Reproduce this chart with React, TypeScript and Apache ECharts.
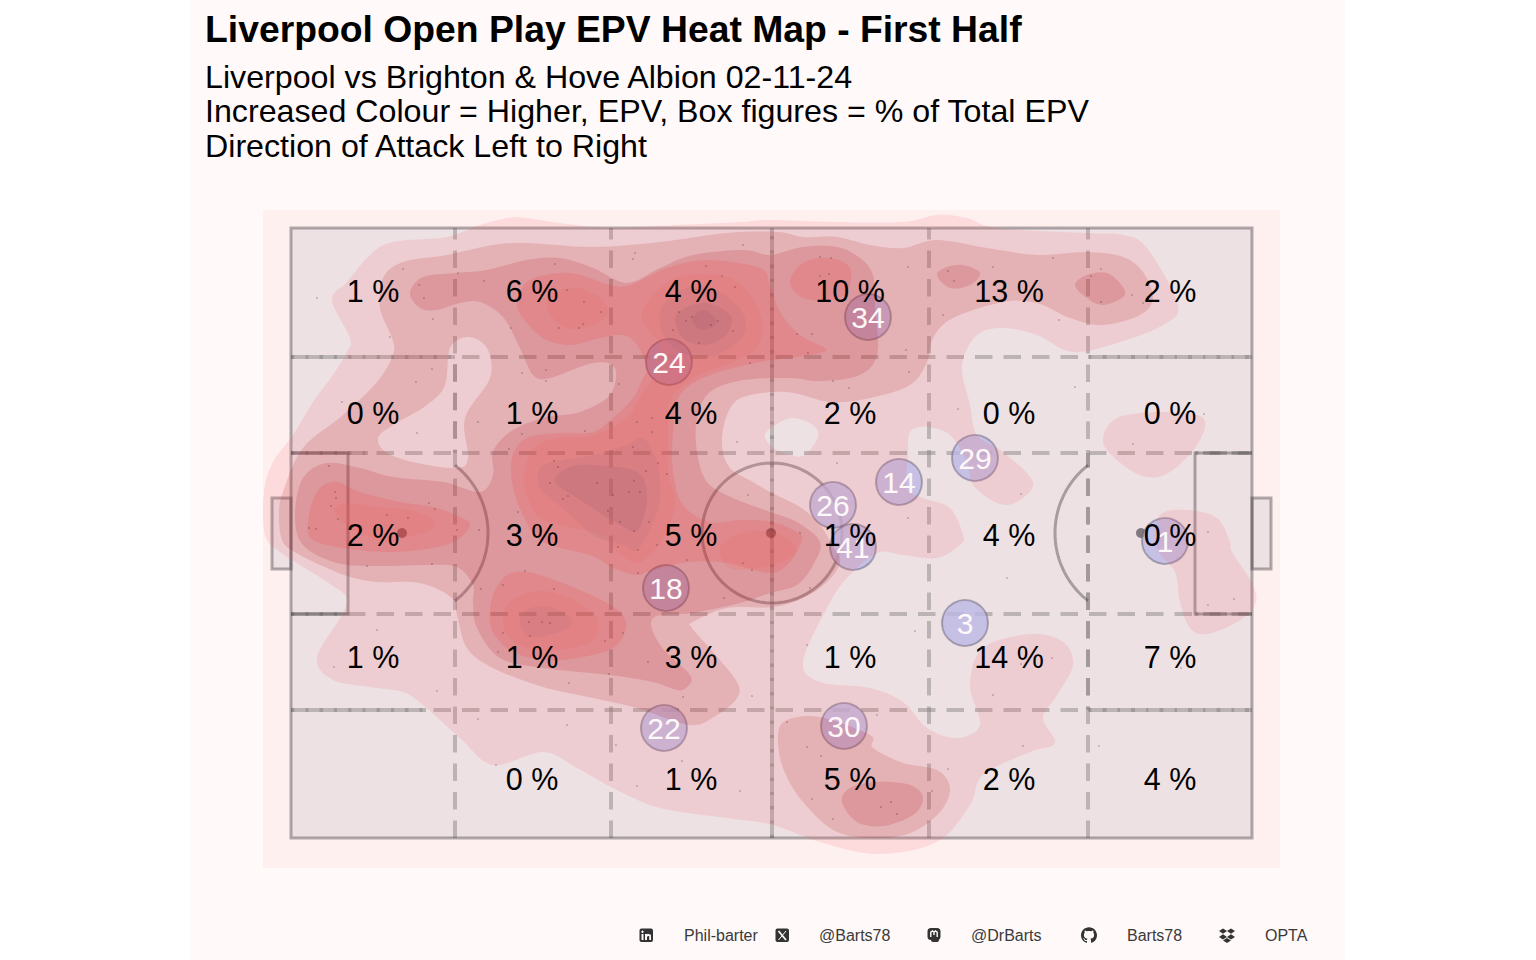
import React, { useEffect, useRef } from "react";
import * as echarts from "echarts";

type Pt = number[];

const titleText = "Liverpool Open Play EPV Heat Map - First Half";
const subtitleLines = [
  "Liverpool vs Brighton & Hove Albion 02-11-24",
  "Increased Colour = Higher, EPV, Box figures = % of Total EPV",
  "Direction of Attack Left to Right",
];
const captionLabels = ["Phil-barter", "@Barts78", "@DrBarts", "Barts78", "OPTA"];

// pitch axis: length 0..961, width 0..610
const pitchLength = 961;
const pitchWidth = 610;
const gridLinesX = [164, 320, 481, 638, 797];
const gridLinesY = [481, 385, 224, 128];
// second dashed pass where two box outlines overlap: x0, y0, x1, y1
const doubledSegments: number[][] = [
  [164, 385, 164, 481],
  [481, 0, 481, 610],
  [797, 128, 797, 385],
  [0, 481, 164, 481],
  [797, 481, 961, 481],
  [0, 385, 77, 385],
  [904, 385, 961, 385],
  [0, 224, 57, 224],
  [904, 224, 961, 224],
  [0, 128, 135, 128],
  [797, 128, 961, 128],
];

const boxLabelX = [82, 241, 400, 559, 718, 879];
const boxLabelY = [547, 425, 303, 181, 59];
const boxShares: (number | null)[][] = [
  [1, 6, 4, 10, 13, 2],
  [0, 1, 4, 2, 0, 0],
  [2, 3, 5, 1, 4, 0],
  [1, 1, 3, 1, 14, 7],
  [null, 0, 1, 5, 2, 4],
];

const players: [number, number, string][] = [
  [378, 476, "24"],
  [577, 521, "34"],
  [684, 380, "29"],
  [608, 356, "14"],
  [542, 333, "26"],
  [562, 291, "41"],
  [874, 297, "1"],
  [375, 250, "18"],
  [674, 215, "3"],
  [373, 110, "22"],
  [553, 112, "30"],
];

const level1Outer: Pt[] = [[41,538],[56,556],[79,583],[102,596],[156,601],[189,613],[216,620],[236,620],[269,615],[319,610],[386,613],[452,616],[479,618],[546,616],[612,616],[646,623],[676,620],[706,610],[796,605],[832,603],[856,590],[887,533],[872,513],[829,496],[782,486],[746,503],[712,510],[686,503],[671,473],[679,433],[686,403],[712,386],[742,356],[726,336],[706,335],[682,353],[676,376],[659,403],[636,411],[619,406],[617,383],[616,350],[632,340],[659,330],[672,303],[669,293],[646,280],[612,283],[586,285],[556,260],[536,230],[512,176],[529,156],[579,150],[612,136],[636,110],[666,100],[689,113],[679,153],[692,190],[739,204],[772,196],[782,173],[766,143],[752,120],[764,95],[739,86],[692,63],[679,33],[646,-4],[586,-16],[529,-4],[482,13],[436,20],[369,30],[322,50],[286,70],[252,86],[202,73],[169,100],[132,133],[112,146],[79,151],[42,158],[26,180],[49,220],[56,240],[36,256],[9,273],[-11,286],[-26,303],[-27,346],[-18,376],[2,403],[22,436],[42,463],[56,486],[59,500]];
const level1Hole: Pt[] = [[474,403],[484,413],[502,420],[522,413],[527,401],[514,383],[499,383],[481,391]];
const level1LobeA: Pt[] = [[812,396],[826,420],[872,426],[912,420],[906,393],[879,366],[856,361],[832,373]];
const level1LobeB: Pt[] = [[869,323],[896,328],[926,320],[939,296],[941,286],[962,253],[964,233],[946,216],[916,204],[899,210],[889,236],[884,266],[866,290]];

const level2Outer: Pt[] = [[89,530],[92,560],[112,576],[156,583],[202,593],[236,595],[302,591],[369,596],[436,605],[487,606],[512,601],[546,601],[579,593],[612,590],[646,598],[696,590],[746,583],[796,586],[832,581],[852,566],[862,540],[849,523],[812,513],[779,520],[746,535],[712,536],[662,520],[642,500],[636,476],[619,453],[579,440],[539,436],[496,446],[452,441],[436,423],[431,393],[439,370],[462,356],[479,346],[509,331],[529,313],[541,293],[549,276],[536,256],[512,240],[482,231],[436,230],[402,216],[401,210],[422,186],[446,156],[446,140],[426,123],[399,113],[346,130],[302,140],[252,151],[202,170],[176,190],[166,223],[161,240],[129,255],[86,256],[59,261],[36,270],[9,283],[-8,296],[-12,323],[-8,346],[12,390],[52,423],[86,456],[102,483],[101,500]];
const level2Hole: Pt[] = [[87,400],[102,413],[136,433],[154,453],[159,490],[177,501],[196,490],[199,460],[174,420],[177,380],[166,370],[126,375],[96,385]];
const level2Lobe: Pt[] = [[487,103],[496,118],[529,121],[579,103],[582,90],[612,75],[646,68],[659,50],[649,26],[622,6],[589,0],[546,6],[512,36],[492,70]];

const level3Outer: Pt[] = [[119,545],[132,561],[166,565],[196,568],[236,578],[269,580],[302,570],[336,555],[369,570],[402,583],[452,588],[479,583],[512,591],[546,591],[569,580],[582,563],[584,533],[587,490],[579,470],[559,460],[526,457],[499,460],[452,458],[419,446],[406,420],[406,386],[416,356],[442,340],[479,326],[506,316],[529,296],[522,273],[506,253],[479,245],[449,235],[402,225],[362,220],[369,193],[399,163],[396,151],[386,148],[362,156],[319,163],[252,170],[209,180],[186,210],[182,236],[182,253],[166,271],[136,273],[86,272],[46,275],[12,293],[4,323],[12,360],[36,375],[69,370],[102,361],[152,356],[189,346],[202,363],[202,386],[219,406],[252,420],[289,426],[319,443],[324,470],[302,475],[259,460],[242,463],[229,490],[212,521],[189,536],[169,535],[146,528],[129,530]];
const level3LobeA: Pt[] = [[646,563],[656,571],[672,573],[689,565],[679,553],[659,550]];
const level3LobeB: Pt[] = [[784,553],[796,563],[816,565],[832,551],[832,541],[812,533],[796,540]];
const level3LobeC: Pt[] = [[551,36],[559,50],[586,56],[619,53],[632,40],[622,23],[592,12],[566,16]];

const level4Main: Pt[] = [[226,536],[239,558],[279,565],[319,553],[339,553],[376,570],[416,578],[469,570],[479,553],[489,526],[509,503],[534,490],[529,485],[499,480],[469,476],[419,463],[389,443],[382,406],[382,366],[392,333],[419,316],[449,318],[481,316],[506,306],[511,298],[499,276],[479,265],[436,275],[399,276],[361,268],[346,263],[322,270],[299,283],[252,296],[232,323],[221,356],[222,383],[236,400],[269,405],[302,406],[322,420],[342,440],[352,460],[356,470],[346,493],[332,503],[309,500],[279,493],[252,500],[232,520]];
const level4Left: Pt[] = [[19,328],[29,350],[46,356],[69,346],[109,336],[142,331],[169,321],[179,313],[166,298],[142,290],[96,286],[46,291],[19,301]];
const level4Lower: Pt[] = [[199,216],[202,243],[216,263],[236,266],[269,256],[306,240],[329,226],[335,210],[322,190],[286,180],[252,178],[222,186],[206,200]];
const level4Top: Pt[] = [[499,556],[512,575],[539,580],[559,570],[556,546],[539,538],[512,540]];

const level5Main: Pt[] = [[351,526],[369,550],[396,563],[436,561],[459,543],[471,516],[466,490],[442,476],[402,460],[379,436],[377,400],[377,366],[384,333],[372,300],[362,286],[346,275],[326,286],[312,303],[269,313],[246,323],[234,350],[236,376],[246,393],[269,400],[302,403],[336,420],[352,446],[366,466],[369,493],[356,510]];
const level5Top: Pt[] = [[256,530],[262,545],[286,550],[309,540],[317,526],[306,515],[282,509],[266,516]];
const level5Left: Pt[] = [[43,328],[56,335],[86,331],[119,328],[142,318],[139,308],[116,301],[96,296],[69,305],[52,316]];
const level5Lower: Pt[] = [[212,216],[219,236],[246,247],[276,241],[302,225],[307,213],[299,196],[269,188],[236,190],[219,200]];
const level5Centre: Pt[] = [[429,290],[449,305],[481,306],[504,293],[499,280],[469,270],[439,270]];

const level6Top: Pt[] = [[369,526],[382,543],[402,551],[429,546],[451,526],[454,506],[439,490],[416,481],[389,486],[372,503]];
const level6Central: Pt[] = [[247,356],[249,370],[262,376],[302,383],[336,393],[352,400],[366,376],[369,340],[361,313],[346,288],[332,293],[302,303],[276,326],[252,346]];
const level6Lower: Pt[] = [[229,215],[236,228],[256,232],[276,223],[281,215],[269,206],[239,201]];

const level7Top: Pt[] = [[384,520],[396,531],[416,535],[436,526],[441,516],[432,500],[412,493],[392,500]];
const level7Central: Pt[] = [[264,356],[276,370],[302,373],[346,366],[356,340],[347,308],[329,313],[286,340]];
const level8Top: Pt[] = [[402,520],[412,528],[424,520],[424,513],[412,508],[404,513]];

const contourBands: [number, Pt[][]][] = [
  [0, [level1Outer, level1Hole]],
  [0, [level1LobeA]],
  [0, [level1LobeB]],
  [1, [level2Outer, level2Hole]],
  [1, [level2Lobe]],
  [2, [level3Outer]],
  [2, [level3LobeA]],
  [2, [level3LobeB]],
  [2, [level3LobeC]],
  [3, [level4Main]],
  [3, [level4Left]],
  [3, [level4Lower]],
  [3, [level4Top]],
  [4, [level5Main]],
  [4, [level5Top]],
  [4, [level5Left]],
  [4, [level5Lower]],
  [4, [level5Centre]],
  [5, [level6Top]],
  [5, [level6Central]],
  [5, [level6Lower]],
  [6, [level7Top]],
  [6, [level7Central]],
  [7, [level8Top]],
];

const bandColours = [
  "rgba(243,93,100,0.15)",
  "rgba(178,20,23,0.15)",
  "rgba(176,13,22,0.15)",
  "rgba(250,45,50,0.15)",
  "rgba(245,100,95,0.15)",
  "rgba(163,105,120,0.15)",
  "rgba(140,90,113,0.15)",
  "rgba(148,77,110,0.15)",
];

const eventDots: Pt[] = [[26,540],[112,569],[128,553],[133,540],[142,519],[99,501],[167,565],[193,557],[264,574],[276,548],[293,536],[310,526],[268,510],[288,510],[292,514],[220,510],[344,585],[342,579],[415,572],[431,562],[444,551],[452,593],[388,526],[401,521],[395,517],[420,513],[427,517],[442,507],[382,508],[408,495],[141,469],[125,456],[51,436],[126,405],[187,416],[255,468],[231,465],[255,457],[328,454],[346,416],[361,420],[361,406],[231,404],[218,389],[294,407],[342,391],[367,375],[376,364],[355,367],[263,377],[267,371],[306,355],[343,357],[349,346],[338,346],[259,355],[277,342],[272,339],[317,327],[322,343],[329,316],[358,316],[343,307],[227,326],[446,396],[457,343],[459,475],[38,372],[44,346],[45,340],[40,332],[96,323],[117,320],[138,335],[144,329],[18,310],[25,309],[166,308],[188,308],[47,319],[529,581],[540,580],[529,562],[538,564],[506,504],[521,504],[517,485],[615,488],[618,466],[542,457],[558,450],[617,571],[702,571],[657,567],[663,557],[762,580],[810,569],[800,562],[841,543],[810,536],[852,535],[652,523],[768,518],[784,451],[667,429],[913,424],[842,394],[730,344],[546,375],[617,320],[917,306],[509,305],[76,272],[141,274],[234,267],[212,253],[190,249],[263,249],[238,216],[251,216],[259,215],[212,205],[239,202],[314,197],[332,205],[357,176],[207,186],[278,155],[318,164],[392,141],[433,240],[396,278],[347,265],[327,291],[347,288],[366,293],[452,275],[461,268],[461,142],[276,113],[187,119],[146,147],[86,208],[43,171],[391,77],[346,52],[424,50],[449,47],[325,93],[205,73],[519,250],[516,193],[624,207],[761,180],[730,174],[702,143],[716,260],[586,123],[496,116],[516,91],[530,82],[521,39],[542,19],[657,69],[641,47],[590,31],[600,36],[606,24],[732,92],[808,92],[917,233],[943,239],[890,170]];

const penaltyBoxDepth = 57;
const penaltyBoxTop = 385;
const penaltyBoxBottom = 224;
const goalDepth = 19;
const goalTop = 340;
const goalBottom = 269;
const midY = 305;
const centreX = 480;
const spotsX = [111, 480, 850];
const centreRadius = 70;
const arcRadius = 86;

echarts.graphic.registerShape(
  "contourBand",
  echarts.graphic.extendShape({
    type: "contourBand",
    shape: { rings: [] as number[][][] },
    buildPath(ctx: any, shape: any) {
      const area = (r: number[][]) => {
        let a = 0;
        r.forEach((p, i) => {
          const q = r[(i + 1) % r.length];
          a += p[0] * q[1] - q[0] * p[1];
        });
        return a;
      };
      const rings: number[][][] = shape.rings || [];
      if (!rings.length) return;
      const sign = Math.sign(area(rings[0]));
      rings.forEach((ring, idx) => {
        let r = ring;
        if (idx > 0 && Math.sign(area(r)) === sign) r = r.slice().reverse();
        const n = r.length;
        ctx.moveTo(r[0][0], r[0][1]);
        for (let i = 0; i < n; i++) {
          const p0 = r[(i - 1 + n) % n];
          const p1 = r[i];
          const p2 = r[(i + 1) % n];
          const p3 = r[(i + 2) % n];
          ctx.bezierCurveTo(
            p1[0] + (p2[0] - p0[0]) / 6,
            p1[1] + (p2[1] - p0[1]) / 6,
            p2[0] - (p3[0] - p1[0]) / 6,
            p2[1] - (p3[1] - p1[1]) / 6,
            p2[0],
            p2[1]
          );
        }
        ctx.closePath();
      });
    },
  } as any) as any
);

const githubPath =
  "M8 0C3.58 0 0 3.58 0 8c0 3.54 2.29 6.53 5.47 7.59.4.07.55-.17.55-.38 0-.19-.01-.82-.01-1.49-2.01.37-2.53-.49-2.69-.94-.09-.23-.48-.94-.82-1.13-.28-.15-.68-.52-.01-.53.63-.01 1.08.58 1.23.82.72 1.21 1.87.87 2.33.66.07-.52.28-.87.51-1.07-1.78-.2-3.64-.89-3.64-3.95 0-.87.31-1.59.82-2.15-.08-.2-.36-1.02.08-2.12 0 0 .67-.21 2.2.82.64-.18 1.32-.27 2-.27.68 0 1.36.09 2 .27 1.53-1.04 2.2-.82 2.2-.82.44 1.1.16 1.92.08 2.12.51.56.82 1.27.82 2.15 0 3.07-1.87 3.75-3.65 3.95.29.25.54.73.54 1.48 0 1.07-.01 1.93-.01 2.2 0 .21.15.46.55.38C13.71 14.53 16 11.54 16 8c0-4.42-3.58-8-8-8z";
const dropboxPath =
  "M4 1L8 3.6 4 6.2 0 3.6ZM12 1L16 3.6 12 6.2 8 3.6ZM4 6.8L8 9.4 4 12 0 9.4ZM12 6.8L16 9.4 12 12 8 9.4ZM8 10.4L12 13 8 15.4 4 13Z";
echarts.graphic.registerShape("iconGithub", echarts.graphic.extendPath(githubPath, {}) as any);
echarts.graphic.registerShape("iconDropbox", echarts.graphic.extendPath(dropboxPath, {}) as any);

const LINE = "rgba(62,56,60,0.4)";
const DASH = "rgba(128,124,124,0.45)";
const ICON = "#333333";

function pitchItem(_p: any, api: any) {
  const c = (x: number, y: number) => api.coord([x, y]) as number[];
  const children: any[] = [];
  const rectPts = (x0: number, y0: number, x1: number, y1: number) => [c(x0, y0), c(x1, y0), c(x1, y1), c(x0, y1)];
  const fill = "rgba(128,134,154,0.14)";
  const dashLine = (x0: number, y0: number, x1: number, y1: number, offset: number) => ({
    type: "line",
    shape: { x1: c(x0, y0)[0], y1: c(x0, y0)[1], x2: c(x1, y1)[0], y2: c(x1, y1)[1] },
    style: { stroke: DASH, lineWidth: 4, lineDash: [17.5, 11], lineDashOffset: offset },
  });
  children.push({ type: "polygon", shape: { points: rectPts(0, 0, pitchLength, pitchWidth) }, style: { fill, stroke: "none" } });
  children.push({ type: "polygon", shape: { points: rectPts(-goalDepth, goalBottom, 0, goalTop) }, style: { fill, stroke: LINE, lineWidth: 3 } });
  children.push({ type: "polygon", shape: { points: rectPts(pitchLength, goalBottom, pitchLength + goalDepth, goalTop) }, style: { fill, stroke: LINE, lineWidth: 3 } });
  gridLinesX.forEach((x) => children.push(dashLine(x, 0, x, pitchWidth, 0)));
  gridLinesY.forEach((y) => children.push(dashLine(0, y, pitchLength, y, 0)));
  doubledSegments.forEach((s) => children.push(dashLine(s[0], s[1], s[2], s[3], 14)));
  children.push({ type: "polygon", shape: { points: rectPts(0, 0, pitchLength, pitchWidth) }, style: { fill: "none", stroke: LINE, lineWidth: 3 } });
  const stroke = { fill: "none", stroke: LINE, lineWidth: 3 };
  children.push({ type: "polyline", shape: { points: [c(0, penaltyBoxTop), c(penaltyBoxDepth, penaltyBoxTop), c(penaltyBoxDepth, penaltyBoxBottom), c(0, penaltyBoxBottom)] }, style: stroke });
  children.push({ type: "polyline", shape: { points: [c(pitchLength, penaltyBoxTop), c(pitchLength - penaltyBoxDepth, penaltyBoxTop), c(pitchLength - penaltyBoxDepth, penaltyBoxBottom), c(pitchLength, penaltyBoxBottom)] }, style: stroke });
  const arc = (cx: number, r: number, from: number, to: number) => {
    const pts: number[][] = [];
    for (let a = from; a <= to + 0.001; a += (to - from) / 72) pts.push(c(cx + r * Math.cos(a), midY + r * Math.sin(a)));
    return pts;
  };
  children.push({ type: "polyline", shape: { points: arc(centreX + 1, centreRadius, 0, Math.PI * 2) }, style: stroke });
  const leftSweep = Math.acos((gridLinesX[0] - spotsX[0]) / arcRadius);
  const rightSweep = Math.acos((spotsX[2] - gridLinesX[4]) / arcRadius);
  children.push({ type: "polyline", shape: { points: arc(spotsX[0], arcRadius, -leftSweep, leftSweep) }, style: stroke });
  children.push({ type: "polyline", shape: { points: arc(spotsX[2], arcRadius, Math.PI - rightSweep, Math.PI + rightSweep) }, style: stroke });
  spotsX.forEach((x) => {
    const p = c(x, midY);
    children.push({ type: "circle", shape: { cx: p[0], cy: p[1], r: 5 }, style: { fill: "rgba(62,56,60,0.62)" } });
  });
  return { type: "group", children };
}

function contourItem(params: any, api: any) {
  const [level, rings] = contourBands[params.dataIndex];
  return {
    type: "contourBand",
    shape: { rings: rings.map((r) => r.map((p) => api.coord(p))) },
    style: { fill: bandColours[level], stroke: "none" },
  };
}

function buildGraphic() {
  const textEl = (text: string, x: number, y: number, font: string, fill: string) => ({
    type: "text",
    z: 20,
    style: { text, x, y, font, fill, textAlign: "left", textVerticalAlign: "middle" },
  });
  const captionX = [684, 819, 971, 1127, 1265];
  const els: any[] = [
    { type: "rect", z: -20, shape: { x: 190, y: 0, width: 1155, height: 960 }, style: { fill: "#FFF9F9" } },
    { type: "rect", z: -19, shape: { x: 263, y: 210, width: 1017, height: 658 }, style: { fill: "#FFF0F0" } },
    textEl(titleText, 205, 29.3, "bold 37.3px 'Liberation Sans'", "#000000"),
  ];
  subtitleLines.forEach((s, i) => els.push(textEl(s, 205, 76.7 + i * 34.5, "32.2px 'Liberation Sans'", "#000000")));
  captionLabels.forEach((s, i) => els.push(textEl(s, captionX[i], 935.5, "16px 'Liberation Sans'", "#3A3A3A")));
  // LinkedIn
  els.push({ type: "rect", z: 20, shape: { x: 639.5, y: 928.5, width: 13.5, height: 13.5, r: 2 }, style: { fill: ICON } });
  els.push({ type: "rect", z: 21, shape: { x: 641.5, y: 934, width: 2, height: 6 }, style: { fill: "#FFF9F9" } });
  els.push({ type: "circle", z: 21, shape: { cx: 642.5, cy: 931.8, r: 1.2 }, style: { fill: "#FFF9F9" } });
  els.push({ type: "polyline", z: 21, shape: { points: [[646, 940], [646, 934]] }, style: { stroke: "#FFF9F9", lineWidth: 2, fill: "none" } });
  els.push({ type: "polyline", z: 21, shape: { points: [[646, 936.5], [648, 934.8], [650, 935.5], [650.2, 940]] }, style: { stroke: "#FFF9F9", lineWidth: 1.8, fill: "none" } });
  // X
  els.push({ type: "rect", z: 20, shape: { x: 775.5, y: 928.5, width: 13.5, height: 13.5, r: 2 }, style: { fill: ICON } });
  els.push({ type: "line", z: 21, shape: { x1: 778.5, y1: 931, x2: 786, y2: 940 }, style: { stroke: "#FFF9F9", lineWidth: 1.8 } });
  els.push({ type: "line", z: 21, shape: { x1: 786, y1: 931, x2: 778.5, y2: 940 }, style: { stroke: "#FFF9F9", lineWidth: 1 } });
  // Mastodon
  els.push({ type: "rect", z: 20, shape: { x: 927.5, y: 928, width: 13, height: 12, r: 3.5 }, style: { fill: ICON } });
  els.push({ type: "rect", z: 20, shape: { x: 931, y: 938, width: 8, height: 4, r: 2 }, style: { fill: ICON } });
  els.push({ type: "polyline", z: 21, shape: { points: [[930.8, 937], [930.8, 932.2], [932.6, 931], [934, 932.2], [934, 935], [934, 932.2], [935.4, 931], [937.2, 932.2], [937.2, 937]] }, style: { stroke: "#FFF9F9", lineWidth: 1.4, fill: "none" } });
  // GitHub, Dropbox
  els.push({ type: "iconGithub", z: 20, x: 1081, y: 927.2, scaleX: 1, scaleY: 1, style: { fill: ICON } });
  els.push({ type: "iconDropbox", z: 20, x: 1219, y: 927.5, scaleX: 1, scaleY: 1, style: { fill: ICON } });
  return els;
}

export default function App() {
  const ref = useRef<HTMLDivElement>(null);
  useEffect(() => {
    const chart = echarts.init(ref.current!, undefined, { renderer: "svg" });
    const labelData: any[] = [];
    boxShares.forEach((row, j) =>
      row.forEach((v, i) => {
        if (v !== null) labelData.push({ value: [boxLabelX[i], boxLabelY[j]], share: v });
      })
    );
    chart.setOption({
      animation: false,
      backgroundColor: "#FFFFFF",
      grid: { left: 291, top: 228, width: 961, height: 610, show: false },
      xAxis: { type: "value", min: 0, max: pitchLength, show: false },
      yAxis: { type: "value", min: 0, max: pitchWidth, show: false },
      graphic: { elements: buildGraphic() },
      series: [
        { type: "custom", z: 1, silent: true, coordinateSystem: "cartesian2d", renderItem: pitchItem, data: [[0, 0]], clip: false },
        {
          type: "scatter",
          z: 2,
          silent: true,
          symbol: "circle",
          symbolSize: 46,
          itemStyle: { color: "rgba(188,184,228,0.8)", borderColor: "rgba(96,88,110,0.45)", borderWidth: 2, opacity: 1 },
          data: players.map((p) => [p[0], p[1]]),
        },
        {
          type: "custom",
          z: 3,
          silent: true,
          coordinateSystem: "cartesian2d",
          renderItem: contourItem,
          data: contourBands.map((_, i) => [i, 0]),
          clip: false,
        },
        {
          type: "scatter",
          z: 4,
          silent: true,
          symbol: "circle",
          symbolSize: 1,
          itemStyle: { color: "#1A1A1A", opacity: 0.85 },
          data: eventDots,
        },
        {
          type: "scatter",
          z: 5,
          silent: true,
          symbolSize: 1,
          itemStyle: { color: "transparent", opacity: 1 },
          label: {
            show: true,
            position: "inside",
            formatter: (p: any) => p.data[2],
            color: "#FFF8F8",
            fontFamily: "Liberation Sans",
            fontSize: 30,
          },
          data: players.map((p) => [p[0], p[1], p[2]]),
        },
        {
          type: "scatter",
          z: 6,
          silent: true,
          symbolSize: 1,
          itemStyle: { color: "transparent", opacity: 1 },
          label: {
            show: true,
            position: "inside",
            formatter: (p: any) => `${p.data.share} %`,
            color: "#000000",
            fontFamily: "Liberation Sans",
            fontSize: 30.5,
          },
          data: labelData,
        },
      ],
    });
    return () => chart.dispose();
  }, []);
  return <div ref={ref} style={{ position: "fixed", left: 0, top: 0, width: 1536, height: 960 }} />;
}
